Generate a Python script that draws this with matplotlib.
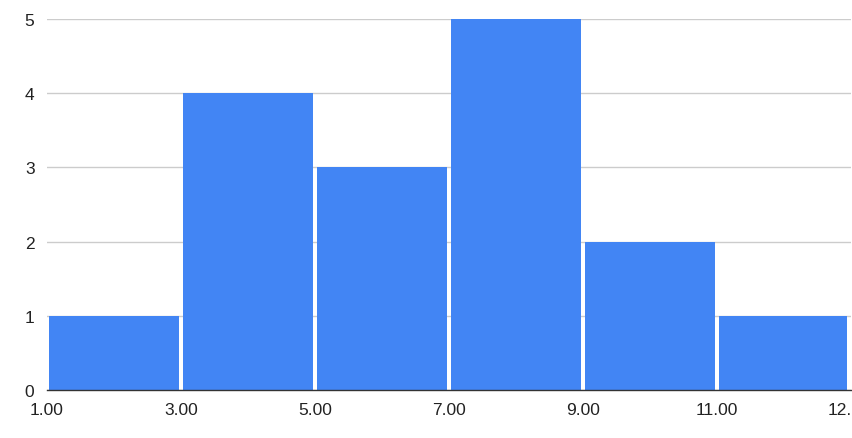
import matplotlib.pyplot as plt

# histogram bins (edges) and counts
bin_edges = [1.0, 3.0, 5.0, 7.0, 9.0, 11.0, 12.97]
counts = [1, 4, 3, 5, 2, 1]
tick_labels = ["1.00", "3.00", "5.00", "7.00", "9.00", "11.00", "12.97"]

plt.rcParams['font.family'] = ['Liberation Sans', 'DejaVu Sans']

fig = plt.figure(figsize=(8.53, 4.39), dpi=100)
ax = fig.add_axes([47 / 853, 48 / 439, (851 - 47) / 853, (391 - 20) / 439])

# gap between bars, in data units (~4.5 px)
gap = 0.068
lefts = [a + gap / 2 for a in bin_edges[:-1]]
widths = [b - a - gap for a, b in zip(bin_edges[:-1], bin_edges[1:])]
ax.bar(lefts, counts, width=widths, align='edge', color='#4285F4',
       linewidth=0, zorder=2)

ax.set_xlim(bin_edges[0], bin_edges[-1] + 0.03)
ax.set_ylim(0, 5)
ax.set_yticks(range(6))
ax.set_xticks(bin_edges)
ax.set_xticklabels(tick_labels)

ax.grid(axis='y', color='#cccccc', linewidth=1, zorder=0)
ax.set_axisbelow(True)
for s in ['top', 'right', 'left']:
    ax.spines[s].set_visible(False)
ax.spines['bottom'].set_color('#333333')
ax.spines['bottom'].set_linewidth(1)
ax.spines['bottom'].set_zorder(3)

ax.tick_params(axis='both', length=0, labelsize=12.5, colors='#222222')
ax.tick_params(axis='y', pad=9)
ax.tick_params(axis='x', pad=9)

fig.savefig('out.png', dpi=100)
